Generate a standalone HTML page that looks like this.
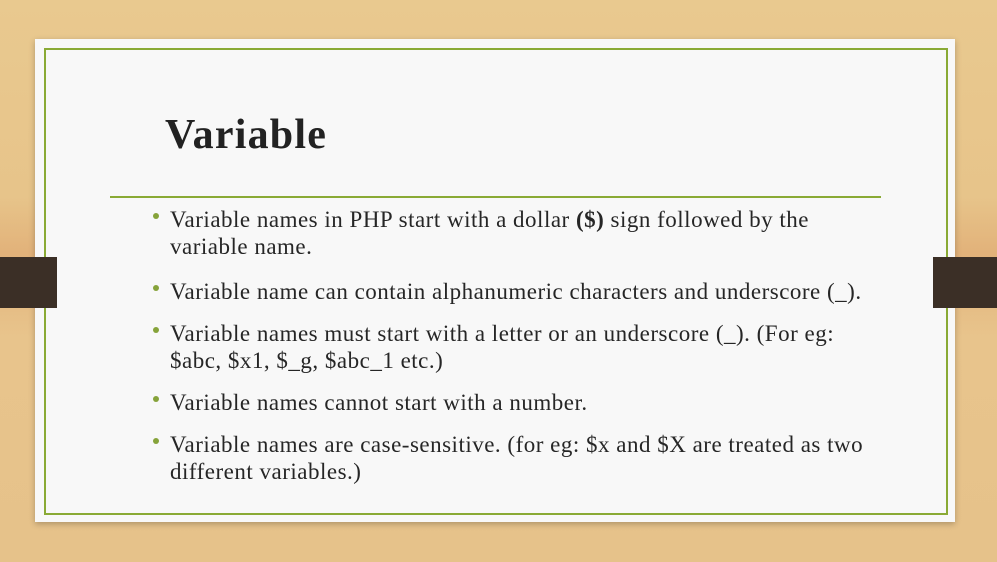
<!DOCTYPE html>
<html><head><style>
body{margin:0;width:997px;height:562px;overflow:hidden;background:linear-gradient(180deg,#e9c98f 0%,#e7c48a 35%,#e2b27a 45%,#e8c48c 60%,#e6c28a 100%);position:relative;font-family:"Liberation Serif",serif;color:#262626}
.card{position:absolute;left:35px;top:39px;width:920px;height:483px;background:#f8f8f8;box-shadow:0 2px 6px rgba(0,0,0,.25)}
.border{position:absolute;left:44px;top:48px;width:900px;height:463px;border:2px solid #8aaa35}
.bar{position:absolute;top:257px;height:51px;background:#3b2f26}
.t{position:absolute;left:170px;font-size:23px;letter-spacing:0.5px;white-space:nowrap;line-height:27px}
.b{position:absolute;left:153px;width:6px;height:6px;border-radius:50%;background:#86a33a}
</style></head><body>
<div class="card"></div>
<div class="border"></div>
<div class="bar" style="left:0;width:57px"></div>
<div class="bar" style="left:933px;width:64px"></div>
<div style="position:absolute;left:165px;top:111px;font-size:42px;letter-spacing:1.2px;font-weight:bold;color:#222">Variable</div>
<div style="position:absolute;left:110px;top:196px;width:771px;height:2px;background:#8aaa35"></div>
<div class="b" style="top:213px"></div>
<div class="t" style="top:206px">Variable names in PHP start with a dollar <b>($)</b> sign followed by the</div>
<div class="t" style="top:233px">variable name.</div>
<div class="b" style="top:285px"></div>
<div class="t" style="top:278px">Variable name can contain alphanumeric characters and underscore (_).</div>
<div class="b" style="top:327px"></div>
<div class="t" style="top:320px">Variable names must start with a letter or an underscore (_). (For eg:</div>
<div class="t" style="top:347px">$abc, $x1, $_g, $abc_1 etc.)</div>
<div class="b" style="top:396px"></div>
<div class="t" style="top:389px">Variable names cannot start with a number.</div>
<div class="b" style="top:438px"></div>
<div class="t" style="top:431px">Variable names are case-sensitive. (for eg: $x and $X are treated as two</div>
<div class="t" style="top:458px">different variables.)</div>
</body></html>
